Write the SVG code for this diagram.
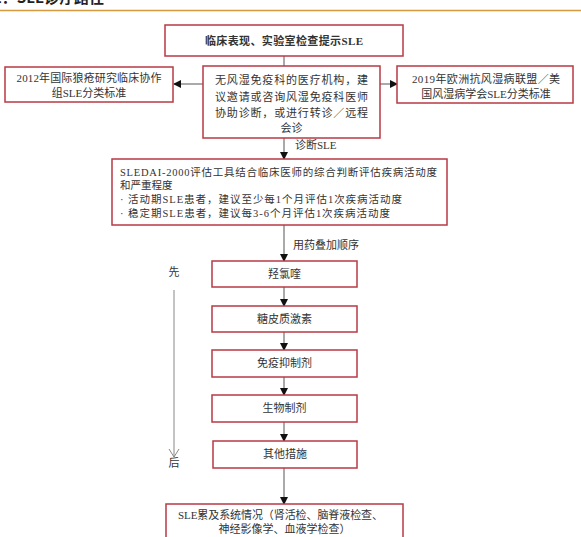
<svg xmlns="http://www.w3.org/2000/svg" width="581" height="537" viewBox="0 0 581 537">
<style>
.box{fill:#fff;stroke:#B83A44;stroke-width:1.5}
.t{font-family:"Liberation Serif","Noto Sans CJK SC",serif;font-size:11px;fill:#333}
.s{font-size:10.5px}
.c{text-anchor:middle}
.ln{stroke:#555;stroke-width:1;fill:none}
</style>
<defs>
<marker id="ah" markerWidth="8" markerHeight="8" refX="7" refY="4" orient="auto" markerUnits="userSpaceOnUse">
<path d="M0,0 L8,4 L0,8 Z" fill="#111"/>
</marker>
</defs>
<rect width="581" height="537" fill="#fff"/>
<g id="title">
<text x="-22" y="3" style="font-family:'Noto Sans CJK SC',sans-serif;font-size:15px;font-weight:bold;fill:#222">图1：SLE诊疗路径</text>
<line x1="0" y1="10.5" x2="581" y2="10.5" stroke="#D39A3E" stroke-width="1.5"/>
</g>
<g id="connectors">
<line class="ln" x1="284" y1="56" x2="284" y2="66"/>
<line class="ln" x1="203" y1="84" x2="174" y2="84" marker-end="url(#ah)"/>
<line class="ln" x1="380" y1="84" x2="397" y2="84" marker-end="url(#ah)"/>
<line class="ln" x1="284" y1="138" x2="284" y2="159" marker-end="url(#ah)"/>
<line class="ln" x1="284" y1="225" x2="284" y2="261" marker-end="url(#ah)"/>
<line class="ln" x1="284" y1="287" x2="284" y2="306" marker-end="url(#ah)"/>
<line class="ln" x1="284" y1="332" x2="284" y2="350" marker-end="url(#ah)"/>
<line class="ln" x1="284" y1="377" x2="284" y2="395" marker-end="url(#ah)"/>
<line class="ln" x1="284" y1="422" x2="284" y2="441" marker-end="url(#ah)"/>
<line class="ln" x1="284" y1="468" x2="284" y2="504" marker-end="url(#ah)"/>
<text class="t" x="295" y="149">诊断SLE</text>
<text class="t" x="293" y="249">用药叠加顺序</text>
</g>
<g id="order">
<text class="t c" x="174" y="276">先</text>
<line x1="174" y1="290" x2="174" y2="457" stroke="#888" stroke-width="1"/>
<path d="M169,449 L174,457 L179,449" fill="none" stroke="#888" stroke-width="1"/>
<text class="t c" x="174" y="467">后</text>
</g>
<g id="n1">
<rect class="box" x="165" y="25" width="238" height="31"/>
<text class="t c" x="284" y="45" style="font-weight:bold" textLength="158" lengthAdjust="spacing">临床表现、实验室检查提示SLE</text>
</g>
<g id="n2">
<rect class="box" x="5" y="67" width="168" height="35"/>
<text class="t c" x="89" y="82" textLength="145" lengthAdjust="spacing">2012年国际狼疮研究临床协作</text>
<text class="t c" x="89" y="97">组SLE分类标准</text>
</g>
<g id="n3">
<rect class="box" x="203" y="66" width="177" height="72"/>
<text class="t c" x="291.5" y="84" textLength="153" lengthAdjust="spacing">无风湿免疫科的医疗机构，建</text>
<text class="t c" x="291.5" y="101" textLength="153" lengthAdjust="spacing">议邀请或咨询风湿免疫科医师</text>
<text class="t c" x="291.5" y="117" textLength="153" lengthAdjust="spacing">协助诊断，或进行转诊／远程</text>
<text class="t c" x="291.5" y="132">会诊</text>
</g>
<g id="n4">
<rect class="box" x="397" y="66" width="176" height="37"/>
<text class="t c" x="486" y="83" textLength="148" lengthAdjust="spacing">2019年欧洲抗风湿病联盟／美</text>
<text class="t c" x="486" y="98">国风湿病学会SLE分类标准</text>
</g>
<g id="n5">
<rect class="box" x="112" y="159" width="335" height="66"/>
<text class="t s" x="120" y="176" textLength="317" lengthAdjust="spacing">SLEDAI-2000评估工具结合临床医师的综合判断评估疾病活动度</text>
<text class="t s" x="120" y="189">和严重程度</text>
<text class="t s" x="120" y="203" textLength="282" lengthAdjust="spacing">· 活动期SLE患者，建议至少每1个月评估1次疾病活动度</text>
<text class="t s" x="120" y="217" textLength="270" lengthAdjust="spacing">· 稳定期SLE患者，建议每3-6个月评估1次疾病活动度</text>
</g>
<g id="n6">
<rect class="box" x="212" y="261" width="145" height="26"/>
<text class="t c" x="284.5" y="278">羟氯喹</text>
</g>
<g id="n7">
<rect class="box" x="212" y="306" width="145" height="26"/>
<text class="t c" x="284.5" y="323">糖皮质激素</text>
</g>
<g id="n8">
<rect class="box" x="212" y="350" width="145" height="27"/>
<text class="t c" x="284.5" y="367">免疫抑制剂</text>
</g>
<g id="n9">
<rect class="box" x="212" y="395" width="145" height="27"/>
<text class="t c" x="284.5" y="412">生物制剂</text>
</g>
<g id="n10">
<rect class="box" x="213" y="441" width="144" height="27"/>
<text class="t c" x="285" y="458">其他措施</text>
</g>
<g id="n11">
<rect class="box" x="166" y="504" width="237" height="40"/>
<text class="t c" x="280.5" y="519" textLength="205" lengthAdjust="spacing">SLE累及系统情况（肾活检、脑脊液检查、</text>
<text class="t c" x="284.5" y="533">神经影像学、血液学检查）</text>
</g>
</svg>
